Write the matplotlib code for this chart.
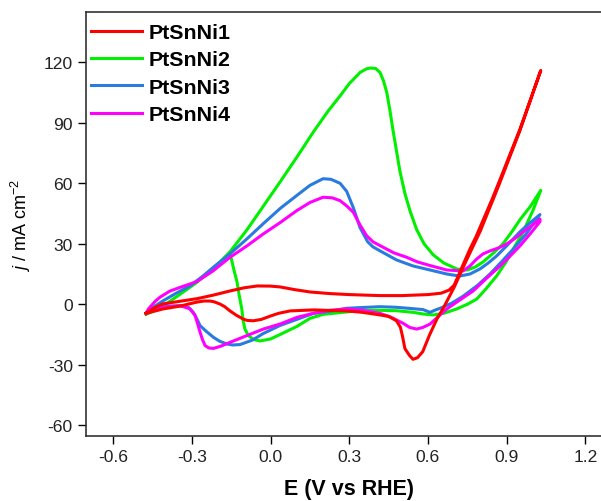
import numpy as np
from matplotlib import pyplot as plt

# PtSnNi1 - forward and reverse scans (E in V vs RHE, j in mA cm-2)
e1_fwd = [-0.475, -0.44, -0.41, -0.345, -0.28, -0.22, -0.155, -0.10, -0.05, 0.0, 0.036, 0.09, 0.15, 0.226,
          0.30, 0.417, 0.50, 0.60, 0.65, 0.68, 0.70, 0.72, 0.74, 0.76, 0.783, 0.845, 0.875, 0.951, 1.03]
j1_fwd = [-4.5, -1.5, 0.2, 1.5, 2.8, 4.5, 6.6, 8.2, 9.1, 9.0, 8.6, 7.3, 6.1, 5.3,
          4.8, 4.3, 4.3, 4.8, 5.5, 7.0, 9.5, 15.5, 21.5, 27.4, 33.5, 52.3, 62.0, 87.0, 116.0]
e1_rev = [1.03, 0.95, 0.87, 0.80, 0.74, 0.70, 0.66, 0.634, 0.605, 0.58, 0.56, 0.543, 0.53, 0.512, 0.503,
          0.495, 0.48, 0.45, 0.417, 0.35, 0.29, 0.163, 0.074, 0.03, 0.0, -0.035, -0.066, -0.09, -0.105,
          -0.13, -0.155, -0.175, -0.193, -0.215, -0.23, -0.255, -0.28, -0.31, -0.345, -0.41, -0.475]
j1_rev = [116.0, 86.0, 59.0, 36.5, 20.0, 8.5, -1.5, -7.3, -15.5, -23.5, -26.5, -27.3, -25.5, -22.0, -16.0,
          -11.5, -8.2, -6.0, -5.3, -4.0, -3.3, -2.8, -3.3, -4.5, -5.8, -7.5, -8.2, -8.0, -7.3,
          -5.5, -3.3, -1.2, 0.1, 1.2, 1.6, 1.6, 1.1, 0.2, -0.9, -2.3, -4.5]

# PtSnNi2
e2_fwd = [-0.475, -0.44, -0.41, -0.345, -0.28, -0.24, -0.193, -0.155, -0.09, -0.05, 0.036, 0.10, 0.163,
          0.22, 0.265, 0.30, 0.341, 0.365, 0.379, 0.40, 0.417, 0.43, 0.443, 0.455, 0.467, 0.48, 0.493,
          0.512, 0.531, 0.557, 0.585, 0.62, 0.66, 0.71, 0.75, 0.78, 0.81, 0.85, 0.886, 0.92, 0.951,
          0.99, 1.03]
j2_fwd = [-5.0, -3.0, -0.9, 5.0, 11.0, 15.6, 21.0, 26.0, 37.0, 44.5, 60.7, 73.0, 85.5,
          96.0, 103.4, 109.5, 115.0, 116.8, 117.2, 117.0, 115.0, 111.0, 105.0, 96.0, 86.0, 76.0, 66.0,
          55.0, 46.5, 37.0, 30.0, 24.5, 20.5, 17.5, 17.0, 18.5, 21.0, 25.5, 30.0, 36.0, 42.0,
          48.5, 56.5]
e2_rev = [1.03, 1.0, 0.963, 0.93, 0.90, 0.862, 0.82, 0.786, 0.75, 0.71, 0.66, 0.62, 0.58, 0.543, 0.48,
          0.417, 0.35, 0.29, 0.2, 0.15, 0.10, 0.036, 0.0, -0.04, -0.065, -0.085, -0.098, -0.105, -0.11,
          -0.12, -0.128, -0.14, -0.147, -0.155]
j2_rev = [56.5, 46.5, 36.0, 28.5, 21.5, 14.1, 7.5, 2.6, 0.0, -2.3, -4.5, -5.3, -4.8, -4.0, -3.2,
          -3.0, -3.2, -3.8, -5.0, -7.0, -11.0, -15.0, -17.2, -18.2, -17.5, -15.5, -12.3, -8.0, -2.3,
          4.5, 11.0, 17.0, 21.0, 25.0]

# PtSnNi3
e3_fwd = [-0.475, -0.465, -0.44, -0.409, -0.36, -0.307, -0.26, -0.218, -0.155, -0.09, -0.028, 0.036,
          0.10, 0.15, 0.20, 0.23, 0.265, 0.29, 0.315, 0.341, 0.37, 0.39, 0.417, 0.48, 0.543, 0.608,
          0.672, 0.72, 0.76, 0.798, 0.83, 0.862, 0.90, 0.951, 0.99, 1.027]
j3_fwd = [-4.5, -3.2, -0.8, 1.8, 5.5, 9.2, 13.8, 18.4, 25.0, 32.5, 40.0, 47.5,
          54.0, 59.0, 62.3, 62.0, 60.0, 56.0, 48.0, 38.0, 31.0, 28.5, 26.5, 22.0, 19.0, 17.0,
          15.0, 14.0, 15.0, 17.5, 20.5, 24.0, 29.0, 36.0, 40.5, 44.5]
e3_rev = [1.027, 0.975, 0.925, 0.88, 0.837, 0.79, 0.734, 0.69, 0.646, 0.625, 0.608, 0.58, 0.543, 0.48,
          0.417, 0.35, 0.29, 0.226, 0.163, 0.10, 0.036, -0.028, -0.07, -0.117, -0.145, -0.167, -0.195,
          -0.218, -0.245, -0.269, -0.283, -0.295, -0.314, -0.345, -0.409, -0.465, -0.475]
j3_rev = [44.5, 35.0, 27.4, 21.0, 15.1, 9.5, 4.0, 0.5, -2.0, -3.0, -4.0, -2.6, -2.2, -1.5,
          -1.2, -1.6, -2.0, -3.5, -4.5, -7.5, -10.5, -14.5, -17.8, -20.0, -20.2, -19.7, -18.3,
          -16.4, -13.5, -10.6, -6.8, -4.0, -1.5, -0.7, -1.0, -3.2, -4.5]

# PtSnNi4
e4_fwd = [-0.475, -0.466, -0.44, -0.422, -0.385, -0.345, -0.282, -0.22, -0.155, -0.09, -0.028, 0.036,
          0.10, 0.15, 0.20, 0.235, 0.265, 0.29, 0.315, 0.34, 0.366, 0.39, 0.417, 0.47, 0.519, 0.56,
          0.608, 0.672, 0.734, 0.76, 0.786, 0.81, 0.837, 0.87, 0.90, 0.93, 0.963, 1.0, 1.027]
j4_fwd = [-4.5, -2.3, 1.5, 3.5, 6.5, 8.4, 11.2, 16.5, 23.3, 29.0, 34.9, 40.5,
          46.5, 50.5, 53.1, 52.8, 51.4, 48.8, 45.7, 39.5, 34.0, 31.0, 29.1, 25.5, 23.3, 21.0,
          19.2, 17.0, 16.5, 19.0, 22.5, 25.0, 26.5, 28.0, 29.9, 32.5, 35.9, 39.5, 42.3]
e4_rev = [1.027, 0.99, 0.951, 0.91, 0.875, 0.82, 0.772, 0.72, 0.672, 0.64, 0.608, 0.58, 0.557, 0.53,
          0.506, 0.46, 0.417, 0.35, 0.29, 0.226, 0.163, 0.10, 0.036, -0.028, -0.09, -0.155, -0.19,
          -0.218, -0.235, -0.25, -0.26, -0.269, -0.28, -0.288, -0.307, -0.345, -0.409, -0.466, -0.475]
j4_rev = [41.0, 35.0, 29.0, 23.5, 19.0, 12.5, 6.6, 2.0, -2.3, -6.0, -9.8, -11.5, -12.3, -11.5,
          -9.5, -6.5, -4.5, -3.0, -2.3, -3.0, -4.5, -6.5, -9.8, -12.3, -15.5, -18.9, -20.8,
          -21.9, -21.7, -20.5, -17.5, -13.9, -9.0, -5.6, -2.3, -0.7, -1.5, -3.7, -4.5]

labels = ['PtSnNi1', 'PtSnNi2', 'PtSnNi3', 'PtSnNi4']
colors = ['#ff0000', '#00f000', '#2a7be0', '#ff00ff']
x_ticks = [-0.6, -0.3, 0.0, 0.3, 0.6, 0.9, 1.2]
y_ticks = [-60, -30, 0, 30, 60, 90, 120]

plt.rcParams['font.family'] = ['Liberation Sans', 'DejaVu Sans']
plt.rcParams['axes.unicode_minus'] = False
plt.rcParams['mathtext.fontset'] = 'custom'
plt.rcParams['mathtext.rm'] = 'Liberation Sans'
plt.rcParams['mathtext.it'] = 'Liberation Sans:italic'

fig = plt.figure(figsize=(6.01, 5.02), dpi=100)
# axes runs a bit past the right edge of the image, like the reference crop
ax = fig.add_axes([0.1431, 0.1289, 0.8745, 0.8452])

curves = [(e1_fwd + e1_rev, j1_fwd + j1_rev),
          (e2_fwd + e2_rev, j2_fwd + j2_rev),
          (e3_fwd + e3_rev, j3_fwd + j3_rev),
          (e4_fwd + e4_rev, j4_fwd + j4_rev)]
zorders = [5, 2, 3, 4]
for (e, j), lab, c, z in zip(curves, labels, colors, zorders):
    ax.plot(e, j, color=c, lw=2.2, label=lab, zorder=z, solid_joinstyle='round')

ax.set_xlim(-0.704, 1.30)
ax.set_ylim(-65.5, 145)
ax.set_xticks(x_ticks)
ax.set_xticklabels(['{:.1f}'.format(v) for v in x_ticks])
ax.set_yticks(y_ticks)
ax.tick_params(direction='out', length=6, width=1, labelsize=12.6, pad=3.5, top=False, right=False,
               labelcolor='#222222')
for s in ax.spines.values():
    s.set_linewidth(1.2)
    s.set_color('#333333')

ax.set_xlabel('E (V vs RHE)', fontsize=15.5, fontweight='bold')
ax.xaxis.set_label_coords(0.5, -0.098)
ax.set_ylabel(r'$j$ / mA cm$^{-2}$', fontsize=13)
ax.yaxis.set_label_coords(-0.101, 0.5)

# legend without frame in upper left corner
leg = ax.legend(loc='upper left', bbox_to_anchor=(0.0095, 0.974), frameon=False, borderpad=0,
                borderaxespad=0, handlelength=2.4, handletextpad=0.3, labelspacing=0.39,
                prop={'size': 15.4, 'weight': 'bold'})

fig.savefig('out.png', dpi=100)
